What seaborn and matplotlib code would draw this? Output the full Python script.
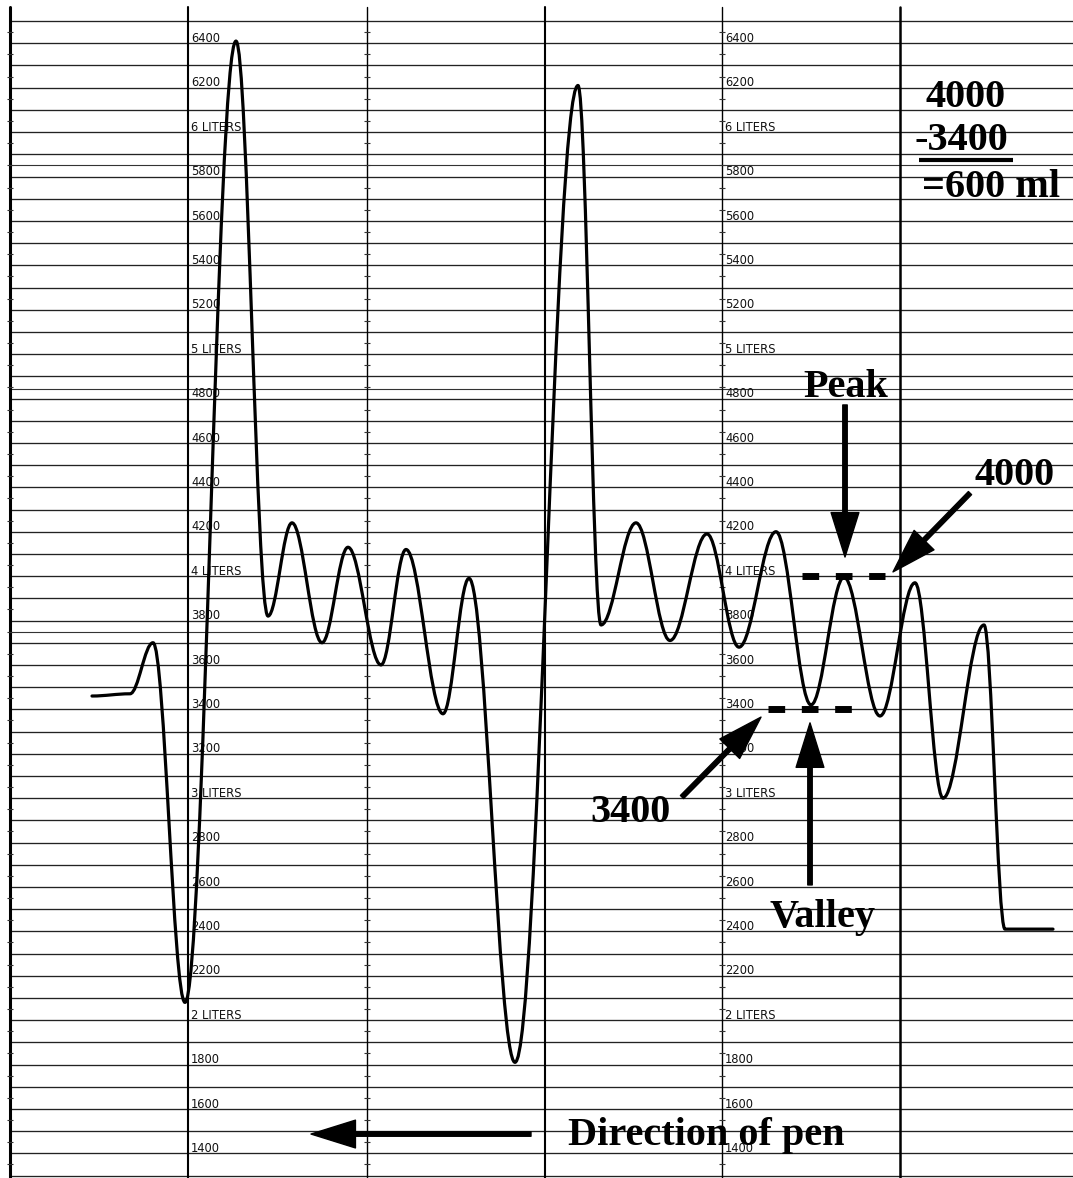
import numpy as np
import matplotlib
matplotlib.use("Agg")
import matplotlib.pyplot as plt
import seaborn as sns
from matplotlib.path import Path
from matplotlib.patches import PathPatch, FancyArrowPatch

# ---- data read off the spirometer tracing ----
# x = position along the paper (chart units), ml = volume at each turning point
trace_x = [92, 130, 153, 185, 236, 268, 292, 322, 348, 381, 406, 443, 469, 515,
           578, 601, 636, 670, 707, 739, 776, 811, 844, 880, 915, 943, 984, 1005, 1053]
trace_ml = [3460, 3470, 3700, 2080, 6410, 3820, 4240, 3700, 4130, 3600, 4120, 3380, 3990, 1810,
            6210, 3780, 4240, 3710, 4190, 3680, 4200, 3420, 3995, 3370, 3970, 3000, 3780, 2410, 2410]

peak_ml = 4000
valley_ml = 3400
peak_span = [802, 885]
valley_span = [768, 852]

grid_ml = list(range(1300, 6600, 100))
extra_grid_ml = [5850, 4845, 3750]
column_x = [10, 188, 367, 545, 722, 900]
column_lw = [2.2, 1.5, 1.0, 1.5, 1.0, 1.8]
label_ml = list(range(1400, 6600, 200))
label_text = [f"{v // 1000} LITERS" if v % 1000 == 0 else str(v) for v in label_ml]
label_columns = [188, 722]

sns.set_theme(style="white")
serif = dict(family="Liberation Serif", weight="bold", size=29, color="black")

fig = plt.figure(figsize=(10.73, 11.78), dpi=100)
ax = fig.add_axes([0, 0, 1, 1])
ax.set_xlim(0, 1073)
ax.set_ylim(1289, 6595)
ax.axis("off")

# chart paper
for v in grid_ml:
    ax.plot([10, 1073], [v, v], color="#222222", lw=0.95, zorder=1)
for v in extra_grid_ml:
    ax.plot([10, 1073], [v, v], color="#333333", lw=0.8, zorder=1)
for cx, lw in zip(column_x, column_lw):
    ax.plot([cx, cx], [1289, 6565], color="black", lw=lw, zorder=1)
half_marks = [v + 50 for v in grid_ml[:-1]]
for cx in [10, 367, 722]:
    ax.plot([cx] * len(half_marks), half_marks, ls="none", marker="_",
            ms=5, mew=0.8, color="#333333", zorder=1)

for cx in label_columns:
    for v, t in zip(label_ml, label_text):
        ax.text(cx + 3, v + 6, t, fontsize=8.3, family="DejaVu Sans",
                ha="left", va="baseline", color="#111111", zorder=2)

# the tracing: smooth half-waves between turning points
verts = [(trace_x[0], trace_ml[0])]
codes = [Path.MOVETO]
k = 0.364
for x0, y0, x1, y1 in zip(trace_x[:-1], trace_ml[:-1], trace_x[1:], trace_ml[1:]):
    dx = x1 - x0
    verts += [(x0 + k * dx, y0), (x1 - k * dx, y1), (x1, y1)]
    codes += [Path.CURVE4] * 3
ax.add_patch(PathPatch(Path(verts, codes), fill=False, ec="black", lw=2.3,
                       capstyle="round", joinstyle="round", zorder=3))

# peak / valley markers
marks = {
    "x": peak_span + valley_span,
    "ml": [peak_ml] * 2 + [valley_ml] * 2,
    "level": ["peak"] * 2 + ["valley"] * 2,
}
for lvl in ["peak", "valley"]:
    xs = [x for x, l in zip(marks["x"], marks["level"]) if l == lvl]
    ys = [y for y, l in zip(marks["ml"], marks["level"]) if l == lvl]
    sns.lineplot(x=xs, y=ys, ax=ax, color="black", lw=5.0,
                 linestyle=(0, (2.4, 2.4)), solid_capstyle="butt", zorder=4)
for line in ax.lines[-2:]:
    line.set_dash_capstyle("butt")


def arrow(x0, y0, x1, y1):
    ax.add_patch(FancyArrowPatch((x0, y0), (x1, y1),
                                 arrowstyle="simple,head_length=3.2,head_width=2.0,tail_width=0.32",
                                 mutation_scale=10, color="black", shrinkA=0, shrinkB=0, zorder=5))


arrow(845, 4771, 845, 4086)
arrow(970, 4374, 893, 4019)
arrow(682, 3005, 761, 3365)
arrow(810, 2609, 810, 3339)
arrow(531, 1487, 311, 1487)

ax.text(846, 4807, "Peak", ha="center", va="baseline", **serif)
ax.text(1015, 4410, "4000", ha="center", va="baseline", **serif)
ax.text(630, 2892, "3400", ha="center", va="baseline", **serif)
ax.text(823, 2419, "Valley", ha="center", va="baseline", **serif)
ax.text(706, 1437, "Direction of pen", ha="center", va="baseline", **serif)

ax.text(966, 6114, "4000", ha="center", va="baseline", **serif)
ax.text(961, 5919, "-3400", ha="center", va="baseline", **serif)
ax.plot([919, 1013], [5874, 5874], color="black", lw=3.0, solid_capstyle="butt", zorder=4)
ax.text(991, 5709, "=600 ml", ha="center", va="baseline", **serif)

fig.savefig("out.png", dpi=100)
